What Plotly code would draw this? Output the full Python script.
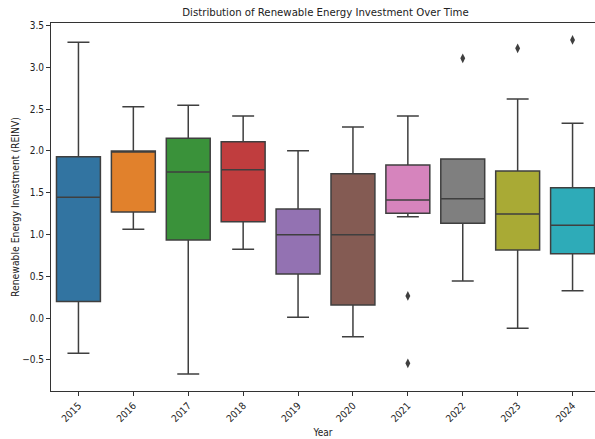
import plotly.graph_objects as go

years = ["2015", "2016", "2017", "2018", "2019", "2020", "2021", "2022", "2023", "2024"]
q1 = [0.20, 1.27, 0.935, 1.154, 0.529, 0.158, 1.255, 1.135, 0.816, 0.772]
median = [1.446, 1.995, 1.749, 1.776, 0.999, 0.999, 1.414, 1.43, 1.246, 1.111]
q3 = [1.93, 2.00, 2.152, 2.111, 1.306, 1.729, 1.833, 1.904, 1.761, 1.561]
lower_whisker = [-0.42, 1.063, -0.667, 0.824, 0.011, -0.221, 1.214, 0.445, -0.121, 0.329]
upper_whisker = [3.30, 2.53, 2.547, 2.419, 2.004, 2.287, 2.419, 1.904, 2.622, 2.331]
outlier_year = ["2021", "2021", "2022", "2023", "2024"]
outlier_value = [0.266, -0.54, 3.109, 3.228, 3.328]
colors = ["#3274a1", "#e1812c", "#3a923a", "#c03d3e", "#9372b2",
          "#845b53", "#d684bd", "#7f7f7f", "#a9aa35", "#2eabb8"]

line_col = "#3f3f3f"
fig = go.Figure()
for i, y in enumerate(years):
    fig.add_trace(go.Box(
        x=[i], q1=[q1[i]], median=[median[i]], q3=[q3[i]],
        lowerfence=[lower_whisker[i]], upperfence=[upper_whisker[i]],
        width=0.8, whiskerwidth=0.5, fillcolor=colors[i],
        line=dict(color=line_col, width=1.5), boxpoints=False,
        showlegend=False, name=y,
    ))

fig.add_trace(go.Scatter(
    x=[years.index(y) for y in outlier_year], y=outlier_value, mode="markers",
    marker=dict(symbol="diamond-tall", size=7, color=line_col),
    showlegend=False,
))

font = "DejaVu Sans Condensed, DejaVu Sans"
fig.update_layout(
    width=595, height=439,
    margin=dict(l=51, r=0, t=23, b=48),
    paper_bgcolor="white", plot_bgcolor="white",
    boxmode="overlay",
    title=dict(text="Distribution of Renewable Energy Investment Over Time",
               x=(51 + 600) / 2 / 595, xanchor="center", y=1 - 12 / 439, yanchor="middle",
               font=dict(family=font, size=11.3, color="#222")),
    font=dict(family=font, size=10, color="#222"),
)
fig.update_xaxes(
    range=[-0.5, 9.409], tickvals=list(range(len(years))), ticktext=years,
    tickangle=-45, showline=True, linecolor="#333", linewidth=1, mirror=True,
    ticks="outside", ticklen=4, tickcolor="#333", showgrid=False, zeroline=False,
    title=dict(text="Year", font=dict(family=font, size=10), standoff=5),
)
fig.update_yaxes(
    range=[-0.871, 3.531], tickvals=[-0.5, 0, 0.5, 1, 1.5, 2, 2.5, 3, 3.5],
    ticktext=["−0.5", "0.0", "0.5", "1.0", "1.5", "2.0", "2.5", "3.0", "3.5"],
    showline=True, linecolor="#333", linewidth=1, mirror=False,
    ticks="outside", ticklen=4, tickcolor="#333", showgrid=False, zeroline=False,
    title=dict(text="Renewable Energy Investment (REINV)", font=dict(family=font, size=10.3), standoff=0),
)
fig.write_html("out.html", config={"displayModeBar": False},
               post_script="document.body.style.margin='0';document.body.style.overflow='hidden';")
